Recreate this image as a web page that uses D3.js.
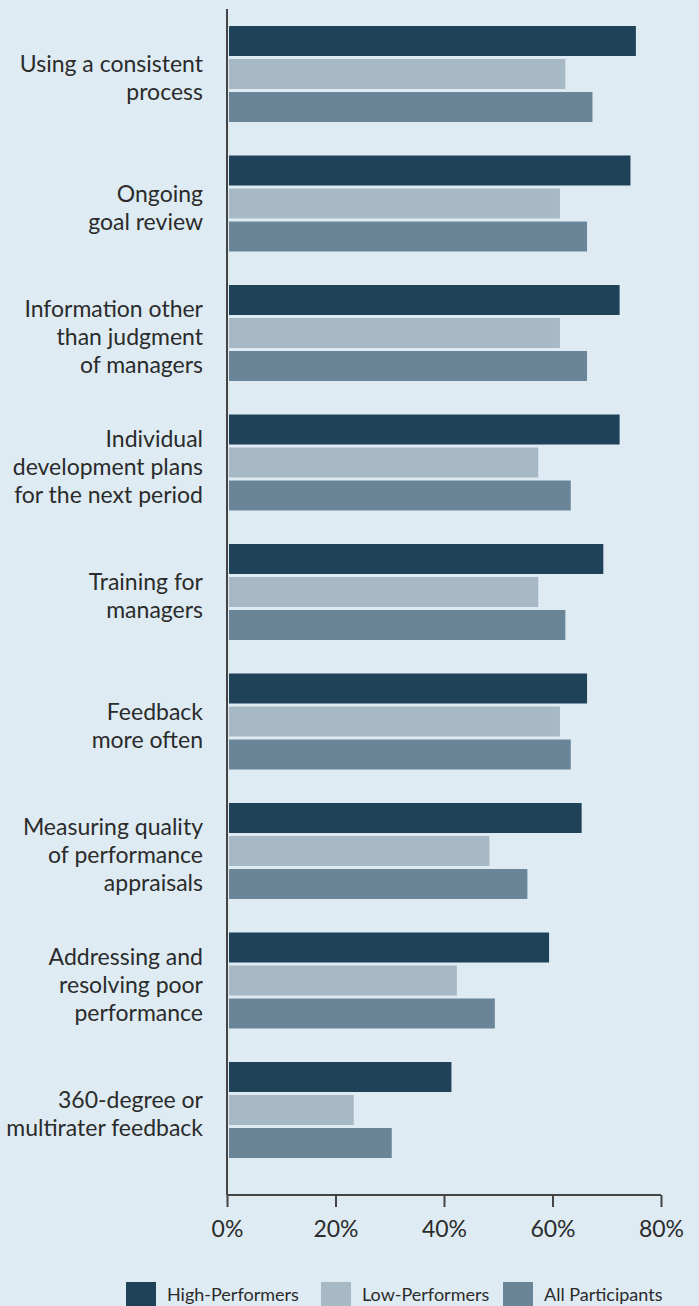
<!DOCTYPE html>
<html>
<head>
<meta charset="utf-8">
<script src="https://cdn.jsdelivr.net/npm/d3@7"></script>
<style>
  html, body { margin: 0; padding: 0; background: #deebf3; }
  svg { display: block; }
  text { font-family: Lato, "Liberation Sans", sans-serif; fill: #2b2b2b; }
</style>
</head>
<body>
<svg id="chart" width="699" height="1306"></svg>
<script>
const categories = [
  ["Using a consistent", "process"],
  ["Ongoing", "goal review"],
  ["Information other", "than judgment", "of managers"],
  ["Individual", "development plans", "for the next period"],
  ["Training for", "managers"],
  ["Feedback", "more often"],
  ["Measuring quality", "of performance", "appraisals"],
  ["Addressing and", "resolving poor", "performance"],
  ["360-degree or", "multirater feedback"]
];
const seriesNames = ["High-Performers", "Low-Performers", "All Participants"];
const highPerformers = [75, 74, 72, 72, 69, 66, 65, 59, 41];
const lowPerformers  = [62, 61, 61, 57, 57, 61, 48, 42, 23];
const allParticipants = [67, 66, 66, 63, 62, 63, 55, 49, 30];
const seriesColors = ["#1f4259", "#a6b9c4", "#6a8597"];
const xTicks = [0, 20, 40, 60, 80];

const svg = d3.select("#chart");
const seriesValues = [highPerformers, lowPerformers, allParticipants];
const catIdx = d3.range(categories.length);

const x = d3.scaleLinear().domain([0, 80]).range([227, 661]);
const y = d3.scaleBand().domain(catIdx).range([9.25, 1174.75])
  .paddingInner(0.2587).paddingOuter(0.12935);
const ySub = d3.scaleBand().domain(d3.range(seriesNames.length))
  .range([0, y.bandwidth()]).paddingInner(0.0909).paddingOuter(0);

// bars
const groups = svg.append("g").selectAll("g").data(catIdx).join("g")
  .attr("transform", i => `translate(0,${y(i)})`);
groups.selectAll("rect")
  .data(i => seriesValues.map((vals, s) => ({ s, v: vals[i] })))
  .join("rect")
  .attr("x", x(0) + 2)
  .attr("y", d => ySub(d.s))
  .attr("width", d => x(d.v) - x(0))
  .attr("height", ySub.bandwidth())
  .attr("fill", d => seriesColors[d.s]);

// category labels
const lineH = 28;
svg.append("g").selectAll("text").data(catIdx).join("text")
  .attr("text-anchor", "end")
  .attr("font-size", 23)
  .each(function (i) {
    const lines = categories[i];
    const cy = y(i) + y.bandwidth() / 2;
    const first = cy - (lines.length - 1) * lineH / 2 + 12;
    d3.select(this).selectAll("tspan").data(lines).join("tspan")
      .attr("x", 203)
      .attr("y", (d, k) => first + k * lineH)
      .text(d => d);
  });

// vertical axis line
svg.append("line")
  .attr("x1", x(0)).attr("x2", x(0))
  .attr("y1", 9).attr("y2", 1195)
  .attr("stroke", "#444").attr("stroke-width", 2);

// x axis
const xAxis = d3.axisBottom(x).tickValues(xTicks)
  .tickFormat(d => d + "%").tickSize(12).tickPadding(14);
const gx = svg.append("g").attr("transform", "translate(0,1195)").call(xAxis);
gx.select(".domain").attr("stroke", "#444").attr("stroke-width", 2)
  .attr("d", `M${x(0)},0H${x(80)}`);
gx.selectAll(".tick line").attr("stroke", "#444").attr("stroke-width", 2)
  .attr("y1", 0);
gx.selectAll(".tick text").attr("font-size", 23)
  .attr("font-family", 'Lato, "Liberation Sans", sans-serif')
  .attr("fill", "#2b2b2b");

// legend
const legendX = [126, 321, 503];
const lg = svg.append("g").selectAll("g").data(seriesNames).join("g")
  .attr("transform", (d, i) => `translate(${legendX[i]},1282)`);
lg.append("rect").attr("width", 30).attr("height", 30)
  .attr("fill", (d, i) => seriesColors[i]);
lg.append("text").attr("x", 41).attr("y", 19).attr("font-size", 18)
  .text(d => d);
</script>
</body>
</html>
